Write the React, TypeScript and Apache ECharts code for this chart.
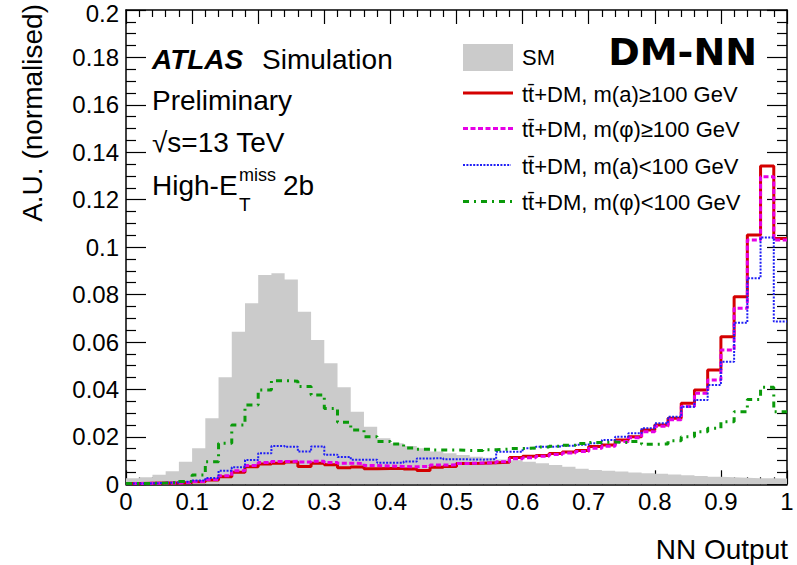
import React, { useEffect, useRef } from "react";
import * as echarts from "echarts";

// ---- data ----
const BIN_WIDTH = 0.02;
const NUM_BINS = 50;
const binLowEdges: number[] = Array.from({ length: NUM_BINS }, (_, i) => Math.round(i * BIN_WIDTH * 100) / 100);

const xTickLabels = ["0", "0.1", "0.2", "0.3", "0.4", "0.5", "0.6", "0.7", "0.8", "0.9", "1"];
const yTickLabels = ["0", "0.02", "0.04", "0.06", "0.08", "0.1", "0.12", "0.14", "0.16", "0.18", "0.2"];

const smValues = [
  0.0025, 0.003, 0.004, 0.0055, 0.0095, 0.0152, 0.0278, 0.0451, 0.0643, 0.0763,
  0.0883, 0.089, 0.0864, 0.0728, 0.0608, 0.051, 0.0409, 0.0306, 0.0243, 0.0194,
  0.0173, 0.0161, 0.0152, 0.0138, 0.0131, 0.0124, 0.0116, 0.0112, 0.0105, 0.0101,
  0.0095, 0.0089, 0.0081, 0.0074, 0.0066, 0.006, 0.0057, 0.0054, 0.005, 0.0047,
  0.0044, 0.0041, 0.0038, 0.0035, 0.0032, 0.003, 0.0028, 0.0026, 0.0025, 0.0024,
];

const aHighValues = [
  0.0003, 0.0004, 0.0005, 0.0006, 0.0008, 0.0011, 0.0018, 0.0032, 0.0051, 0.0074,
  0.0086, 0.0089, 0.0094, 0.0075, 0.0089, 0.0082, 0.007, 0.0073, 0.0066, 0.0067,
  0.0067, 0.0064, 0.0058, 0.0072, 0.0075, 0.0088, 0.0089, 0.0091, 0.0093, 0.0113,
  0.0118, 0.0121, 0.013, 0.0136, 0.0142, 0.0159, 0.0166, 0.0187, 0.0201, 0.0229,
  0.025, 0.0278, 0.0342, 0.0398, 0.0482, 0.0622, 0.0791, 0.1051, 0.1342, 0.1037,
];

const phiHighValues = [
  0.0003, 0.0004, 0.0005, 0.0006, 0.0008, 0.0012, 0.002, 0.0036, 0.0057, 0.0079,
  0.0092, 0.0096, 0.0097, 0.0094, 0.0097, 0.0092, 0.0089, 0.0088, 0.0079, 0.0077,
  0.0075, 0.0074, 0.0076, 0.0081, 0.0082, 0.0088, 0.009, 0.0091, 0.0095, 0.0108,
  0.0112, 0.0118, 0.0126, 0.0132, 0.0138, 0.0152, 0.016, 0.018, 0.0196, 0.0222,
  0.0245, 0.0272, 0.0328, 0.0384, 0.044, 0.0566, 0.0742, 0.103, 0.1297, 0.103,
];

const aLowValues = [
  0.0003, 0.0004, 0.0006, 0.0008, 0.0011, 0.0016, 0.0027, 0.0057, 0.0072, 0.0102,
  0.0131, 0.0161, 0.0158, 0.0138, 0.0159, 0.0125, 0.0115, 0.0104, 0.0104, 0.0091,
  0.0091, 0.0096, 0.0109, 0.011, 0.0106, 0.0105, 0.0104, 0.0106, 0.0137, 0.0137,
  0.0152, 0.0158, 0.016, 0.0163, 0.0167, 0.0173, 0.0187, 0.0201, 0.0215, 0.0236,
  0.0257, 0.0285, 0.0327, 0.0355, 0.0419, 0.0517, 0.0681, 0.0869, 0.1041, 0.0686,
];

const phiLowValues = [
  0.0003, 0.0004, 0.0005, 0.0007, 0.0012, 0.0039, 0.0095, 0.0173, 0.025, 0.0334,
  0.0398, 0.0437, 0.0435, 0.0412, 0.0377, 0.032, 0.0262, 0.0229, 0.0201, 0.018,
  0.017, 0.0153, 0.0148, 0.0145, 0.0145, 0.0143, 0.0143, 0.0146, 0.0148, 0.0151,
  0.0153, 0.0157, 0.016, 0.0165, 0.0172, 0.0176, 0.0178, 0.0176, 0.018, 0.0169,
  0.017, 0.0184, 0.0201, 0.0222, 0.0236, 0.0264, 0.0306, 0.0358, 0.0409, 0.0306,
];

const seriesNames = [
  "SM",
  "tt\u0304+DM, m(a)\u2265100 GeV",
  "tt\u0304+DM, m(\u03c6)\u2265100 GeV",
  "tt\u0304+DM, m(a)<100 GeV",
  "tt\u0304+DM, m(\u03c6)<100 GeV",
];

const FONT = '"Liberation Sans", Arial, Helvetica, sans-serif';

const RED = "#d40000";
const MAGENTA = "#e600e6";
const BLUE = "#1f1ff5";
const GREEN = "#0a9a0a";
const GREY = "#cbcbcb";
const DASH_MAGENTA = [5, 2.5];
const DASH_BLUE = [2, 1.4];
const DASH_GREEN = [6, 5, 2, 5];

function stepData(values: number[]) {
  const pts: number[][] = values.map((v, i) => [binLowEdges[i], v]);
  pts.push([1, values[values.length - 1]]);
  return pts;
}

export default function App() {
  const ref = useRef<HTMLDivElement>(null);

  useEffect(() => {
    if (!ref.current) return;
    const chart = echarts.init(ref.current, undefined, { renderer: "svg" });

    const axisLineStyle = { color: "#000", width: 1.5 };
    const xAxisCommon = {
      type: "value" as const,
      min: 0,
      max: 1,
      interval: 0.1,
      splitLine: { show: false },
      axisLine: { show: true, onZero: false, lineStyle: axisLineStyle },
      axisTick: { show: true, inside: true, length: 14, lineStyle: { color: "#000", width: 1.2 } },
      minorTick: { show: true, splitNumber: 5, length: 7, lineStyle: { color: "#000", width: 1.2 } },
      minorSplitLine: { show: false },
    };
    const yAxisCommon = {
      type: "value" as const,
      min: 0,
      max: 0.2,
      interval: 0.02,
      splitLine: { show: false },
      axisLine: { show: true, onZero: false, lineStyle: axisLineStyle },
      axisTick: { show: true, inside: true, length: 20, lineStyle: { color: "#000", width: 1.2 } },
      minorTick: { show: true, splitNumber: 4, length: 10, lineStyle: { color: "#000", width: 1.2 } },
      minorSplitLine: { show: false },
    };

    const lineSeries = (name: string, values: number[], color: string, width: number, dash: any, z: number) => ({
      type: "line",
      name,
      data: stepData(values),
      step: "end",
      showSymbol: false,
      symbol: "none",
      xAxisIndex: 0,
      yAxisIndex: 0,
      z,
      lineStyle: { color, width, type: dash },
      emphasis: { disabled: true },
    });

    const legendX = 463;
    const legendTextX = 522;
    const legendFont = `22px ${FONT}`;
    const txt = (text: string, x: number, y: number, font: string, align = "left") => ({
      type: "text",
      x,
      y,
      style: { text, font, fill: "#000", align, verticalAlign: "middle" },
    });

    const graphic: any[] = [
      // y axis title
      {
        type: "text",
        x: 32,
        y: 4,
        rotation: Math.PI / 2,
        style: { text: "A.U. (normalised)", font: `28px ${FONT}`, fill: "#000", align: "right", verticalAlign: "middle" },
      },
      // x axis title
      txt("NN Output", 788, 549, `28px ${FONT}`, "right"),
      // ATLAS label
      txt("ATLAS", 152, 59, `italic bold 28px ${FONT}`),
      txt("Simulation", 262, 59, `28px ${FONT}`),
      txt("Preliminary", 152, 100, `28px ${FONT}`),
      txt("\u221as=13 TeV", 152, 142, `28px ${FONT}`),
      txt("High-E", 152, 185, `28px ${FONT}`),
      txt("T", 239, 204, `19px ${FONT}`),
      txt("miss", 239, 175, `18px ${FONT}`),
      txt("2b", 283, 185, `28px ${FONT}`),
      // DM-NN
      txt("DM-NN", 757, 52, `bold 38px "DejaVu Sans", ${FONT}`, "right"),
      // legend
      { type: "rect", shape: { x: legendX, y: 44, width: 50, height: 27 }, style: { fill: GREY } },
      txt(seriesNames[0], legendTextX, 57, legendFont),
      { type: "line", shape: { x1: legendX, y1: 93, x2: legendX + 50, y2: 93 }, style: { stroke: RED, lineWidth: 3 } },
      txt(seriesNames[1], legendTextX, 94, legendFont),
      {
        type: "line",
        shape: { x1: legendX, y1: 128.5, x2: legendX + 50, y2: 128.5 },
        style: { stroke: MAGENTA, lineWidth: 3, lineDash: DASH_MAGENTA },
      },
      txt(seriesNames[2], legendTextX, 129, legendFont),
      {
        type: "line",
        shape: { x1: legendX, y1: 165, x2: legendX + 48, y2: 165 },
        style: { stroke: BLUE, lineWidth: 2, lineDash: DASH_BLUE },
      },
      txt(seriesNames[3], legendTextX, 166, legendFont),
      {
        type: "line",
        shape: { x1: legendX, y1: 201.5, x2: legendX + 50, y2: 201.5 },
        style: { stroke: GREEN, lineWidth: 3, lineDash: DASH_GREEN },
      },
      txt(seriesNames[4], legendTextX, 202.5, legendFont),
    ];

    chart.setOption({
      animation: false,
      backgroundColor: "#fff",
      grid: { left: 126, right: 10, top: 10, bottom: 80.7, containLabel: false, outerBoundsMode: "none" },
      xAxis: [
        {
          ...xAxisCommon,
          position: "bottom",
          axisLabel: {
            show: true,
            margin: 5,
            color: "#000",
            fontSize: 24,
            fontFamily: FONT,
            formatter: (_v: number, i: number) => xTickLabels[i],
          },
        },
        { ...xAxisCommon, position: "top", axisLabel: { show: false } },
      ],
      yAxis: [
        {
          ...yAxisCommon,
          position: "left",
          axisLabel: {
            show: true,
            margin: 7,
            color: "#000",
            fontSize: 24,
            fontFamily: FONT,
            formatter: (_v: number, i: number) =>
              i === yTickLabels.length - 1 ? `{top|${yTickLabels[i]}}` : yTickLabels[i],
            rich: {
              top: { fontSize: 24, fontFamily: FONT, color: "#000", padding: [7, 0, 0, 0] },
            },
          },
        },
        { ...yAxisCommon, position: "right", axisLabel: { show: false } },
      ],
      series: [
        {
          type: "line",
          name: seriesNames[0],
          data: stepData(smValues),
          step: "end",
          showSymbol: false,
          symbol: "none",
          xAxisIndex: 0,
          yAxisIndex: 0,
          z: 1,
          lineStyle: { width: 0, color: GREY },
          areaStyle: { color: GREY, opacity: 1 },
          emphasis: { disabled: true },
        },
        lineSeries(seriesNames[1], aHighValues, RED, 3, "solid", 3),
        lineSeries(seriesNames[2], phiHighValues, MAGENTA, 3, DASH_MAGENTA, 4),
        lineSeries(seriesNames[3], aLowValues, BLUE, 2, DASH_BLUE, 5),
        lineSeries(seriesNames[4], phiLowValues, GREEN, 3, DASH_GREEN, 6),
      ],
      graphic,
    });

    return () => chart.dispose();
  }, []);

  return (
    <div
      ref={ref}
      style={{ position: "fixed", left: 0, top: 0, width: 797, height: 565, background: "#fff" }}
    />
  );
}
